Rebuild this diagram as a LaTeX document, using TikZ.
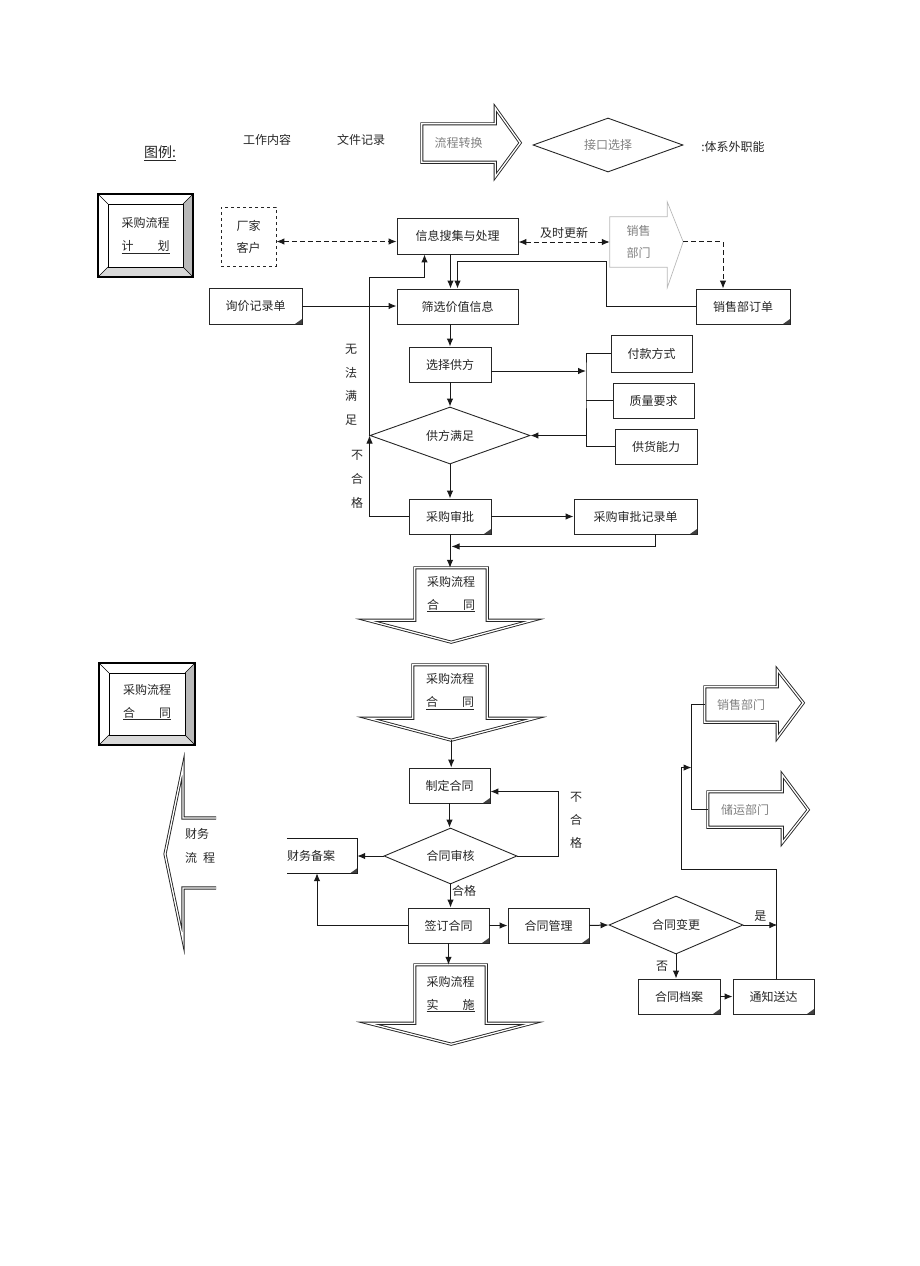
\documentclass[tikz,border=0pt]{standalone}
\usepackage{fontspec}
\setmainfont{Noto Sans CJK SC}
\usetikzlibrary{shapes.geometric,arrows.meta}

\tikzset{
	kasten/.style={draw=black!85, line width=0.9pt, inner sep=0pt, minimum height=35pt},
	akte/.style={kasten, path picture={\fill[black!75] (path picture bounding box.south east) -- ++(-7pt,0) -- ++(7pt,5pt) -- cycle;}},
	raute/.style={draw=black!85, line width=0.9pt, diamond, shape aspect=3, inner sep=0pt},
	linie/.style={black!90, line width=1pt},
	pfeil/.style={linie, ->},
	strich/.style={linie, dash pattern=on 5pt off 3pt},
	umriss/.style={draw=black!85, double=white, double distance=1.3pt, line width=0.9pt},
	grau/.style={text=black!50},
	zeilen/.style={align=center, font=\fontsize{12}{#1}\selectfont},
	zeilen/.default=23,
}

\begin{document}
\begin{tikzpicture}[x=1pt, y=-1pt, >={Latex[length=8pt,width=6.5pt]},
	every node/.style={font=\fontsize{12}{14}\selectfont, text=black!85}]
\useasboundingbox (0,0) rectangle (920,1266);

	%% Legende
	\node[font=\fontsize{14}{16}\selectfont] (legende) at (160,153) {\underline{图例:}};
	\node (bsp1) at (267,140) {工作内容};
	\node (bsp2) at (361,140) {文件记录};
	\node[grau, minimum width=73pt, minimum height=38pt, inner sep=0pt] (bsp3) at (458.5,143) {流程转换};
	\draw[umriss] (bsp3.north west) -- (bsp3.north east) -- ++(0,-16) -- ++(25,35) -- ++(-25,34) -- (bsp3.south east) -- (bsp3.south west) -- cycle;
	\node[raute, grau, minimum width=150pt, minimum height=54pt] (bsp4) at (608,145) {接口选择};
	\node (bsp5) at (733,147) {:体系外职能};

	%%%%%%%%%%%%%%%%

	%% Planung
\begin{scope}[shift={(98,194)}]
	\fill[gray!55] (95,0) -- (95,83) -- (85,73) -- (85,10) -- cycle;
	\fill[gray!30] (0,83) -- (95,83) -- (85,73) -- (10,73) -- cycle;
	\draw[line width=1.2pt] (0,0) rectangle (95,83);
	\draw (10,10) rectangle (85,73);
	\draw (0,0) -- (10,10) (95,0) -- (85,10) (0,83) -- (10,73) (95,83) -- (85,73);
\end{scope}
	\node[zeilen] (plan) at (145.5,235.5) {采购流程\\\underline{计\hspace{2em}划}};

	\node[kasten, dashed, minimum width=55pt, minimum height=59pt, zeilen=22] (kunde) at (248.5,236.5) {厂家\\客户};
	\node[kasten, minimum width=121pt, minimum height=36pt] (info) at (457.5,236) {信息搜集与处理};
	\node[grau, zeilen=22, minimum width=57pt, minimum height=50pt, inner sep=0pt] (vertrieb) at (638.5,242) {销售\\部门};
	\draw[gray!55, line width=0.7pt] (vertrieb.north west) -- (vertrieb.north east) -- ++(0,-15) -- ++(16,40) coordinate (vspitze) -- ++(-16,46) -- (vertrieb.south east) -- (vertrieb.south west) -- cycle;
	\node[akte, minimum width=94pt] (auftrag) at (743,306.5) {销售部订单};
	\node[kasten, minimum width=121pt] (filter) at (457.5,306.5) {筛选价值信息};
	\node[akte, minimum width=93pt, minimum height=36pt] (anfrage) at (255.5,306) {询价记录单};
	\node[kasten, minimum width=82pt] (wahl) at (450,364.5) {选择供方};
	\node[kasten, minimum width=81pt, minimum height=37pt] (zahlung) at (651.5,353.5) {付款方式};
	\node[kasten, minimum width=81pt] (qualitaet) at (653.5,400.5) {质量要求};
	\node[kasten, minimum width=82pt] (liefer) at (656,446.5) {供货能力};
	\node[raute, minimum width=160pt, minimum height=57pt] (erfuellt) at (450,435.5) {供方满足};
	\node[akte, minimum width=82pt] (pruefung) at (450,516.5) {采购审批};
	\node[akte, minimum width=123pt] (protokoll) at (635.5,516.5) {采购审批记录单};
	\node[zeilen, minimum width=72pt, minimum height=52pt, inner sep=0pt] (vertrag) at (451,594) {采购流程\\\underline{合\hspace{2em}同}};
	\draw[umriss] (vertrag.north west) -- (vertrag.north east) -- (vertrag.south east) -- ++(46,0) -- ++(-82,22) -- ++(-84,-22) -- (vertrag.south west) -- cycle;

	\draw[strich, <->] ([yshift=-5pt]kunde.east) -- ([yshift=-5pt]kunde.east -| info.west);
	\draw[strich, <->] (info.east |- vertrieb.west) -- (vertrieb.west) node[midway, above] {及时更新};
	\draw[strich, ->] (vspitze) -| ([xshift=-20pt]auftrag.north);
	\draw[pfeil] (auftrag.west) -- ++(-89,0) -- ++(0,-45) -| (filter.north);
	\draw[pfeil] ([xshift=-7pt]info.south) -- ([xshift=-7pt]filter.north);
	\draw[pfeil] (anfrage.east) -- (anfrage.east -| filter.west);
	\draw[pfeil] (wahl.north |- filter.south) -- (wahl.north);
	\coordinate (gabel) at (586,371);
	\draw[pfeil] (wahl.east |- gabel) -- (gabel);
	\draw[linie] (zahlung.west) -| (gabel) |- (liefer.west) (qualitaet.west) -- (qualitaet.west -| gabel);
	\draw[pfeil] (gabel |- erfuellt.east) -- (erfuellt.east);
	\draw[pfeil] (wahl.south) -- (erfuellt.north);
	\draw[pfeil] (erfuellt.south) -- (pruefung.north);
	\draw[pfeil] (pruefung.east) -- (protokoll.west);
	\draw[pfeil] ([xshift=20pt]protokoll.south) -- ++(0,12) -- ++(-204,0);
	\draw[pfeil] (pruefung.south) -- (pruefung.south |- vertrag.north);
	\draw[pfeil] (pruefung.west) -| (erfuellt.west);
	\draw[pfeil] (erfuellt.west) -- ++(0,-158) -| ([xshift=-33pt]info.south);
	\node[zeilen=23.5] (wfm) at (351,385) {无\\法\\满\\足};
	\node[zeilen=24] (bhg1) at (357,479) {不\\合\\格};

	%%%%%%%%%%%%%%%%

	%% Vertrag
\begin{scope}[shift={(99,663)}]
	\fill[gray!55] (96,0) -- (96,82) -- (86,72) -- (86,10) -- cycle;
	\fill[gray!30] (0,82) -- (96,82) -- (86,72) -- (10,72) -- cycle;
	\draw[line width=1.2pt] (0,0) rectangle (96,82);
	\draw (10,10) rectangle (86,72);
	\draw (0,0) -- (10,10) (96,0) -- (86,10) (0,82) -- (10,72) (96,82) -- (86,72);
\end{scope}
	\node[zeilen] (vplan) at (147,702) {采购流程\\\underline{合\hspace{2em}同}};

	\node[zeilen, minimum width=74pt, minimum height=53pt, inner sep=0pt] (vertrag2) at (450,691.5) {采购流程\\\underline{合\hspace{2em}同}};
	\draw[umriss] (vertrag2.north west) -- (vertrag2.north east) -- (vertrag2.south east) -- ++(48,0) -- ++(-84,22) coordinate (spitze2) -- ++(-83,-22) -- (vertrag2.south west) -- cycle;
	\node[akte, minimum width=81pt] (entwurf) at (449.5,785.5) {制定合同};
	\node[raute, minimum width=133pt, minimum height=56pt] (vpruef) at (450.5,856) {合同审核};
	\node[inner sep=0pt, text width=70pt, align=left, minimum height=34pt] (finanz) at (322,856) {财务备案};
	\draw[linie] (finanz.north west) -- (finanz.north east) -- (finanz.south east) -- (finanz.south west);
	\fill[black!75] (finanz.south east) -- ++(-7pt,0) -- ++(7pt,5pt) -- cycle;
	\node[zeilen=24, align=left, inner sep=0pt] (finflow) at (200,846) {财务\\流\hspace{0.5em}程};
	\draw[umriss] (216,818) -- (183,818) -- (183,767) -- (165,854) -- (183,940) -- (183,888) -- (216,888);
	\node[akte, minimum width=81pt] (unterz) at (448.5,925.5) {签订合同};
	\node[akte, minimum width=81pt] (verwalt) at (548.5,925.5) {合同管理};
	\node[raute, minimum width=134pt, minimum height=58pt] (aender) at (676,925) {合同变更};
	\node[akte, minimum width=82pt] (archiv) at (679,996.5) {合同档案};
	\node[akte, minimum width=81pt] (mitteil) at (773.5,996.5) {通知送达};
	\node[zeilen, minimum width=71pt, minimum height=58pt, inner sep=0pt] (umsetz) at (450.5,994) {采购流程\\\underline{实\hspace{2em}施}};
	\draw[umriss] (umsetz.north west) -- (umsetz.north east) -- (umsetz.south east) -- ++(46,0) -- ++(-81,21) -- ++(-83,-21) -- (umsetz.south west) -- cycle;
	\node[grau, minimum width=72pt, minimum height=35pt, inner sep=0pt] (verkauf) at (741,704.5) {销售部门};
	\draw[umriss] (verkauf.north west) -- (verkauf.north east) -- ++(0,-17) -- ++(26,33) -- ++(-26,35) -- (verkauf.south east) -- (verkauf.south west) -- cycle;
	\node[grau, minimum width=74pt, minimum height=35pt, inner sep=0pt] (lager) at (745,809.5) {储运部门};
	\draw[umriss] (lager.north west) -- (lager.north east) -- ++(0,-17) -- ++(26,35) -- ++(-26,33) -- (lager.south east) -- (lager.south west) -- cycle;

	\draw[pfeil] (spitze2) -- (spitze2 |- entwurf.north);
	\draw[pfeil] (entwurf.south) -- (entwurf.south |- vpruef.north);
	\draw[pfeil] (vpruef.east) -- ++(41,0) |- ([yshift=-6pt]entwurf.east);
	\node[zeilen] (bhg2) at (576,820) {不\\合\\格};
	\draw[pfeil] (vpruef.west) -- (finanz.east);
	\draw[pfeil] (vpruef.south) -- (vpruef.south |- unterz.north) node[pos=0.3, right, inner sep=1pt] {合格};
	\draw[pfeil] (unterz.west) -| ([xshift=-5pt]finanz.south);
	\draw[pfeil] (unterz.east) -- (verwalt.west);
	\draw[pfeil] (verwalt.east) -- (aender.west);
	\draw[pfeil] (aender.south) -- (aender.south |- archiv.north) node[midway, left, xshift=-4pt] {否};
	\draw[pfeil] (archiv.east) -- (mitteil.west);
	\draw[pfeil] (aender.east) -- ++(34,0) node[midway, above] {是};
	\draw[pfeil] ([xshift=3pt]mitteil.north) -- ++(0,-109) -- ++(-95,0) -- ++(0,-102) -- ++(10,0);
	\draw[linie] (verkauf.west) -- ++(-13,0) |- (lager.west);
	\draw[pfeil] (unterz.south) -- (unterz.south |- umsetz.north);

%\draw (current bounding box.south west) rectangle (current bounding box.north east);
\end{tikzpicture}
\end{document}
